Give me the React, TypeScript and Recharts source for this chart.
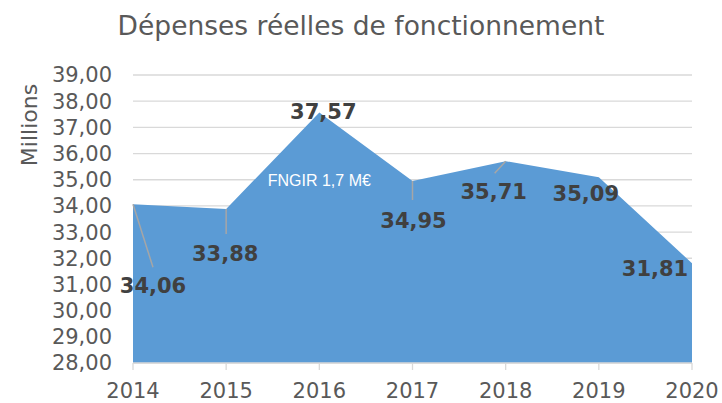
import React from 'react';
import { AreaChart, Area, XAxis, YAxis, CartesianGrid, LabelList, ReferenceDot } from 'recharts';

const YEARS = ['2014', '2015', '2016', '2017', '2018', '2019', '2020'];
const DEPENSES = [34.06, 33.88, 37.57, 34.95, 35.71, 35.09, 31.81];
const Y_TICKS = [28, 29, 30, 31, 32, 33, 34, 35, 36, 37, 38, 39];
const TITLE = 'Dépenses réelles de fonctionnement';
const Y_UNIT = 'Millions';
const NOTE_YEAR = '2016';
const NOTE_VALUE = 35;
const NOTE_TEXT = 'FNGIR 1,7 M€';

const data = YEARS.map((year, i) => ({ year, value: DEPENSES[i] }));

// label placement relative to each point (layout only)
const LABEL_LAYOUT: { dx: number; dy: number; lx?: number; ly?: number }[] = [
  { dx: 20, dy: 81, lx: 20, ly: 63 },
  { dx: -1, dy: 44, lx: 0, ly: 25 },
  { dx: 4, dy: -1 },
  { dx: 1, dy: 39, lx: 0, ly: 19 },
  { dx: -12, dy: 30, lx: -11, ly: 12 },
  { dx: -13, dy: 16 },
  { dx: -37, dy: 5 },
];

const FONT = '"DejaVu Sans", Verdana, sans-serif';
const fmt = (v: number) => v.toFixed(2).replace('.', ',');

const DataLabel = (props: any) => {
  const { x, y, value, index } = props;
  const L = LABEL_LAYOUT[index] || { dx: 0, dy: -10 };
  const cx = x + L.dx;
  const cy = y + L.dy;
  return (
    <g>
      {L.lx !== undefined && (
        <line x1={x} y1={y} x2={x + (L.lx as number)} y2={y + (L.ly as number)} stroke="#a6a6a6" strokeWidth={1.5} />
      )}
      <text x={cx} y={cy} dy={7.5} textAnchor="middle" fontFamily={FONT} fontWeight="bold" fontSize={21} fill="#404040">
        {fmt(Number(value))}
      </text>
    </g>
  );
};

const NoteLabel = (props: any) => {
  const vb = props.viewBox || {};
  const x = vb.x + (vb.width || 0) / 2;
  const y = vb.y + (vb.height || 0) / 2;
  return (
    <text x={x} y={y} dy={6} textAnchor="middle" fontFamily='"Liberation Sans", Arial, sans-serif' fontSize={16} fill="#ffffff">
      {NOTE_TEXT}
    </text>
  );
};

const UnitLabel = () => (
  <text x={37} y={125} transform="rotate(-90 37 125)" textAnchor="middle" fontFamily={FONT} fontSize={22} fill="#595959">
    {Y_UNIT}
  </text>
);

export default function App() {
  return (
    <div style={{ position: 'absolute', left: 0, top: 0, width: 722, height: 403, background: '#fff' }}>
      <div
        style={{
          position: 'absolute',
          left: 0,
          top: 8,
          width: 722,
          textAlign: 'center',
          fontFamily: FONT,
          fontSize: 26.5,
          color: '#595959',
          lineHeight: '36px',
        }}
      >
        {TITLE}
      </div>
      <AreaChart
        width={722}
        height={403}
        data={data}
        margin={{ top: 75, right: 30, bottom: 0, left: 0 }}
        style={{ position: 'absolute', left: 0, top: 0 }}
      >
        <CartesianGrid vertical={false} stroke="#d9d9d9" strokeWidth={1.3} />
        <XAxis
          dataKey="year"
          height={40}
          axisLine={{ stroke: '#d9d9d9', strokeWidth: 1.3 }}
          tickLine={{ stroke: '#d9d9d9', strokeWidth: 1.3 }}
          tickSize={7}
          tickMargin={13}
          tick={{ fontFamily: FONT, fontSize: 21, fill: '#595959' }}
          interval={0}
        />
        <YAxis
          width={133}
          domain={[28, 39]}
          ticks={Y_TICKS}
          axisLine={false}
          tickLine={false}
          tickSize={6}
          tickMargin={15}
          tickFormatter={fmt}
          tick={{ fontFamily: FONT, fontSize: 21, fill: '#595959' }}
          interval={0}
          label={<UnitLabel />}
        />
        <Area
          type="linear"
          dataKey="value"
          stroke="none"
          fill="#5b9bd5"
          fillOpacity={1}
          baseValue={28}
          isAnimationActive={false}
        >
          <LabelList dataKey="value" content={<DataLabel />} />
        </Area>
        <ReferenceDot x={NOTE_YEAR} y={NOTE_VALUE} r={0} fill="none" stroke="none" label={<NoteLabel />} />
      </AreaChart>
    </div>
  );
}
